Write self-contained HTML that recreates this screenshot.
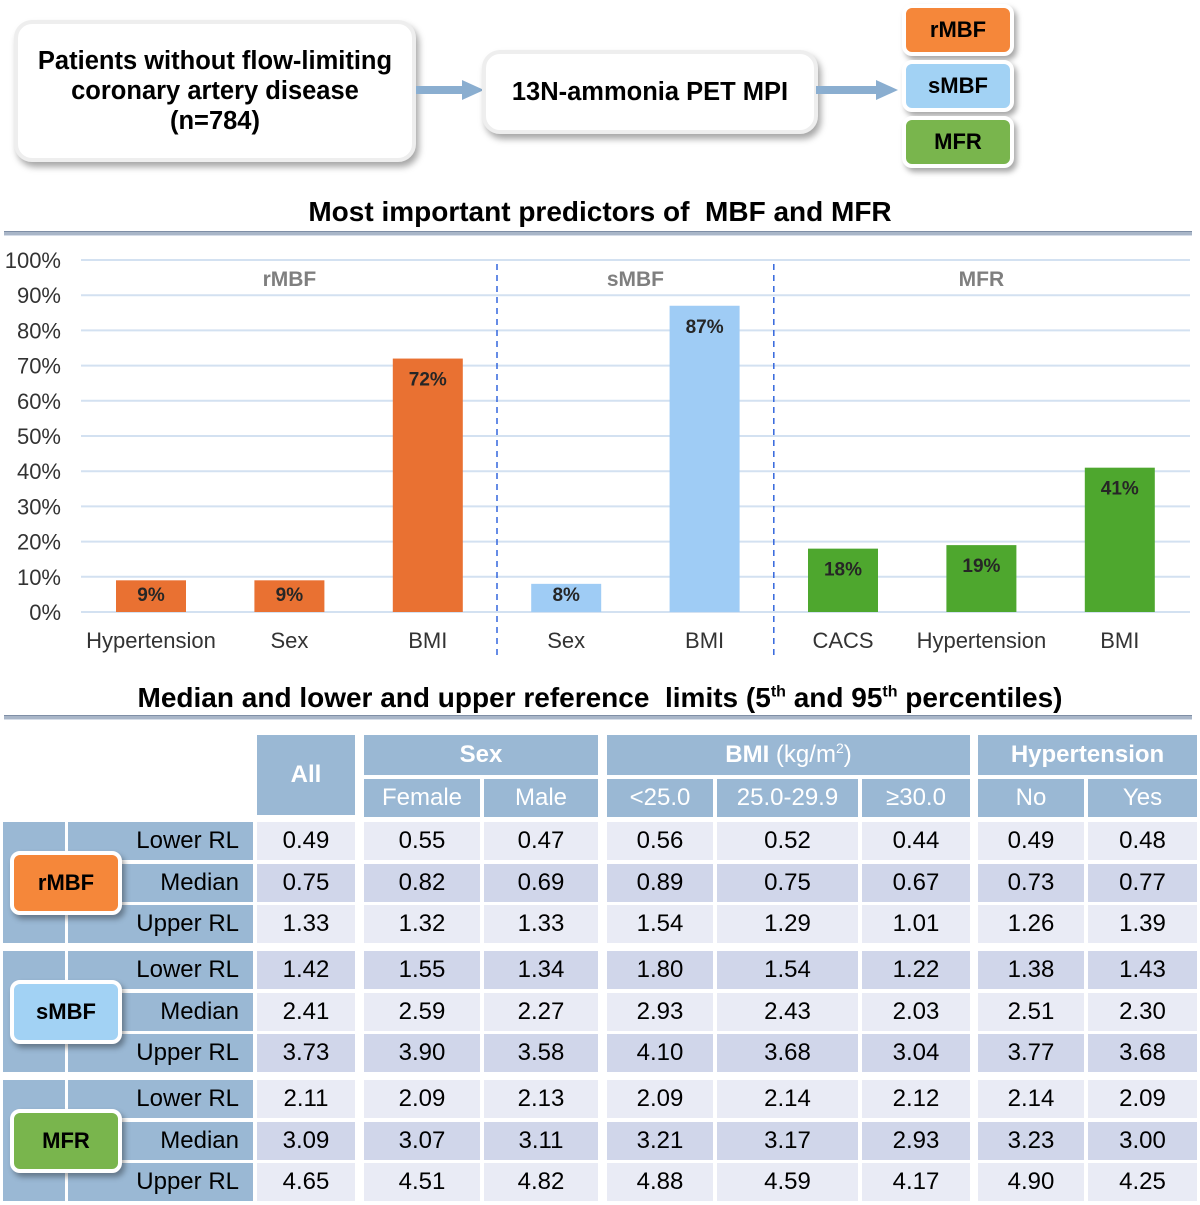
<!DOCTYPE html>
<html><head><meta charset="utf-8">
<style>
body{margin:0;background:#fff;font-family:"Liberation Sans",Arial,sans-serif;}
#page{position:relative;width:1200px;height:1205px;overflow:hidden;background:#fff;}
.abs{position:absolute;}
.box{position:absolute;background:#fff;border:4px solid #eeeeee;border-radius:18px;box-shadow:3px 5px 7px rgba(0,0,0,0.35);display:flex;align-items:center;justify-content:center;text-align:center;font-weight:bold;font-size:25.5px;color:#000;line-height:30px;}
.tag{position:absolute;border:4px solid #fff;border-radius:10px;box-shadow:3px 4px 6px rgba(0,0,0,0.35);display:flex;align-items:center;justify-content:center;font-weight:bold;font-size:22px;color:#000;}
.title{position:absolute;left:0;width:1200px;text-align:center;font-weight:bold;font-size:28px;color:#000;white-space:nowrap;}
.rule{position:absolute;left:4px;width:1188px;height:3px;background:#a9b6c8;border-top:1px solid #7f8fa6;border-bottom:1px solid #d6dde8;}
.cell{position:absolute;display:flex;align-items:center;justify-content:center;font-size:24px;color:#000;}
.hd{background:#9ab8d4;color:#fff;}
sup{line-height:0;}
</style></head><body>
<div id="page">
  <div class="box" style="left:14px;top:20px;width:394px;height:134px;">Patients without flow-limiting<br>coronary artery disease<br>(n=784)</div>
  <svg class="abs" style="left:410px;top:78px" width="80" height="24"><rect x="6" y="8" width="50" height="8" fill="#8aaed0"/><path d="M52 2 L74 12 L52 22 Z" fill="#8aaed0"/></svg>
  <div class="box" style="left:482px;top:50px;width:328px;height:76px;">13N-ammonia PET MPI</div>
  <svg class="abs" style="left:812px;top:78px" width="90" height="24"><rect x="4" y="8" width="64" height="8" fill="#8aaed0"/><path d="M64 2 L86 12 L64 22 Z" fill="#8aaed0"/></svg>
  <div class="tag" style="left:902px;top:4px;width:104px;height:44px;background:#f5873a;">rMBF</div>
  <div class="tag" style="left:902px;top:60px;width:104px;height:44px;background:#a2d2f4;">sMBF</div>
  <div class="tag" style="left:902px;top:116px;width:104px;height:44px;background:#79b54d;">MFR</div>

  <div class="title" style="top:196px;">Most important predictors of&nbsp; MBF and MFR</div>
  <div class="rule" style="top:231px;"></div>

  <svg id="chart" class="abs" style="left:0;top:240px" width="1200" height="430"></svg>

  <div class="title" style="top:682px;">Median and lower and upper reference&nbsp; limits (5<sup style="font-size:16px">th</sup> and 95<sup style="font-size:16px">th</sup> percentiles)</div>
  <div class="rule" style="top:715px;"></div>

  <div id="table"></div>
</div>
<script>
// ---- chart data ----
const categories = ["Hypertension","Sex","BMI","Sex","BMI","CACS","Hypertension","BMI"];
const values = [9,9,72,8,87,18,19,41];
const groups = ["rMBF","rMBF","rMBF","sMBF","sMBF","MFR","MFR","MFR"];
const groupNames = ["rMBF","sMBF","MFR"];
const yTicks = [0,10,20,30,40,50,60,70,80,90,100];

const NS="http://www.w3.org/2000/svg";
const svg=document.getElementById('chart');
const OY=240;
const y0=612-OY, y100=260-OY;
const yScale=v=>y0+(y100-y0)*v/100;
const xScale=i=>151+i*138.4;
const colors={rMBF:"#e97132",sMBF:"#9fccf5",MFR:"#4ea72e"};
function mk(tag,attrs){const e=document.createElementNS(NS,tag);for(const k in attrs)e.setAttribute(k,attrs[k]);svg.appendChild(e);return e;}
yTicks.forEach(t=>{
  const l=mk('line',{x1:81,x2:1190,y1:yScale(t),y2:yScale(t),stroke:"#d3e1f1","stroke-width":2});
  
  
  const tx=mk('text',{x:61,y:yScale(t)+8,"text-anchor":"end","font-size":22,fill:"#333","font-family":"Liberation Sans, sans-serif"});
  tx.textContent=t+"%";
  
  
});
const boundaries=[];
for(let i=1;i<groups.length;i++) if(groups[i]!==groups[i-1]) boundaries.push(i);
boundaries.forEach(b=>{
  const x=(xScale(b-1)+xScale(b))/2;
  const d=mk('line',{x1:x,x2:x,y1:264-OY,y2:656-OY,stroke:"#3366dd","stroke-width":1.5,"stroke-dasharray":"6,5"});
  
  
});
groupNames.forEach(g=>{
  const idx=groups.map((x,i)=>x===g?i:-1).filter(i=>i>=0);
  const cx=(xScale(idx[0])+xScale(idx[idx.length-1]))/2;
  const tx=mk('text',{x:cx,y:286-OY,"text-anchor":"middle","font-size":21,"font-weight":"bold",fill:"#7f7f7f","font-family":"Liberation Sans, sans-serif"});
  tx.textContent=g;
  
  
});
values.forEach((v,i)=>{
  const x=xScale(i), top=yScale(v);
  const r=mk('rect',{x:x-35,y:top,width:70,height:y0-top,fill:colors[groups[i]]});
  
  
  const vl=mk('text',{x:x,y:Math.min(top+27,y0-11),"text-anchor":"middle","font-size":19,"font-weight":"bold",fill:"#262626","font-family":"Liberation Sans, sans-serif"});
  vl.textContent=v+"%";
  
  
  const cl=mk('text',{x:x,y:648-OY,"text-anchor":"middle","font-size":22,fill:"#333","font-family":"Liberation Sans, sans-serif"});
  cl.textContent=categories[i];
  
  
});

// ---- table data ----
const colLefts=[257,364,484,607,717,862,978,1088];
const colRights=[355,480,598,713,858,970,1084,1197];
const rowLabels=["Lower RL","Median","Upper RL"];
const blocks=["rMBF","sMBF","MFR"];
const rmbfRows=[["0.49","0.55","0.47","0.56","0.52","0.44","0.49","0.48"],["0.75","0.82","0.69","0.89","0.75","0.67","0.73","0.77"],["1.33","1.32","1.33","1.54","1.29","1.01","1.26","1.39"]];
const smbfRows=[["1.42","1.55","1.34","1.80","1.54","1.22","1.38","1.43"],["2.41","2.59","2.27","2.93","2.43","2.03","2.51","2.30"],["3.73","3.90","3.58","4.10","3.68","3.04","3.77","3.68"]];
const mfrRows=[["2.11","2.09","2.13","2.09","2.14","2.12","2.14","2.09"],["3.09","3.07","3.11","3.21","3.17","2.93","3.23","3.00"],["4.65","4.51","4.82","4.88","4.59","4.17","4.90","4.25"]];
const tableRows=[rmbfRows,smbfRows,mfrRows];
const blockColors=["#f5873a","#a2d2f4","#79b54d"];

const page=document.getElementById('table');
function cell(l,t,w,h,cls,html,extra){const d=document.createElement('div');d.className='cell '+(cls||'');d.style.cssText=`left:${l}px;top:${t}px;width:${w}px;height:${h}px;`+(extra||'');d.innerHTML=html;page.appendChild(d);return d;}
let c;
c=cell(257,735,98,80,'hd','All','font-weight:bold;');


c=cell(364,735,234,40,'hd','Sex','font-weight:bold;');


c=cell(607,735,363,40,'hd','<span><b>BMI</b>&nbsp;(kg/m<sup style="font-size:14px;vertical-align:9px">2</sup>)</span>');


c=cell(978,735,219,40,'hd','Hypertension','font-weight:bold;');


const subs=["Female","Male","<25.0","25.0-29.9","≥30.0","No","Yes"];
subs.forEach((s,i)=>{
  const k=i+1;
  const d=cell(colLefts[k],779,colRights[k]-colLefts[k],38,'hd',s.replace('<','&lt;'));
  
  
});
let gi=0;
blocks.forEach((b,bi)=>{
  const start=822+bi*129;
  const side=cell(3,start,62,121,'hd','');
  
  
  tableRows[bi].forEach((row,ri)=>{
    const top=start+ri*41.5, h=38;
    const dark=(gi%2===1); gi++;
    const lab=cell(68,top,185,h,'hd',rowLabels[ri],'color:#000;justify-content:flex-end;padding-right:14px;box-sizing:border-box;');
    
    
    row.forEach((v,ci)=>{
      const d=cell(colLefts[ci],top,colRights[ci]-colLefts[ci],h,'',v,'background:'+(dark?'#d0d6ea':'#e9ebf5')+';');
      
      
    });
  });
  const t=document.createElement('div');
  t.className='tag';
  t.style.cssText=`left:10px;top:${start+29}px;width:104px;height:56px;background:${blockColors[bi]};`;
  t.textContent=b;
  page.appendChild(t);
  
  
});
</script>
</body></html>
